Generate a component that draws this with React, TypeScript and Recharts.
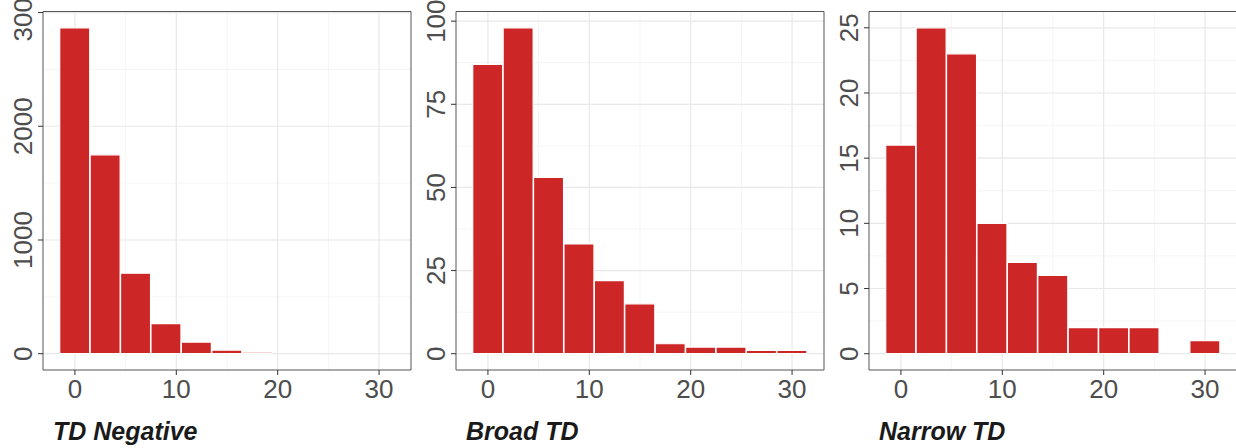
import React from 'react';
import { BarChart, Bar, XAxis, YAxis, CartesianGrid, ReferenceArea } from 'recharts';

// bin centres (binwidth 3)
const binCenters = [0, 3, 6, 9, 12, 15, 18, 21, 24, 27, 30];

const tdNegative = [2866, 1749, 708, 264, 102, 32, 13, 0, 0, 0, 0];
const broadTD = [87, 98, 53, 33, 22, 15, 3, 2, 2, 1, 1];
const narrowTD = [16, 25, 23, 10, 7, 6, 2, 2, 2, 0, 1];

const xTicks = [0, 10, 20, 30];
const xMinor = [5, 15, 25];

const negTicks = [0, 1000, 2000, 3000];
const negMinor = [500, 1500, 2500];
const broadTicks = [0, 25, 50, 75, 100];
const broadMinor = [12.5, 37.5, 62.5, 87.5];
const narrowTicks = [0, 5, 10, 15, 20, 25];
const narrowMinor = [2.5, 7.5, 12.5, 17.5, 22.5];

const BAR_RED = '#CD2626';
const FONT = '"Liberation Sans", Arial, Helvetica, sans-serif';

const xDomain: [number, number] = [-3.15, 33.15];

const RotatedTick = (props: any) => {
  const { x, y, payload } = props;
  return (
    <text
      x={x}
      y={y}
      transform={`rotate(-90, ${x}, ${y})`}
      textAnchor="middle"
      fill="#4D4D4D"
      fontSize={26}
      fontFamily={FONT}
    >
      {payload.value}
    </text>
  );
};

interface PanelProps {
  title: string;
  counts: number[];
  yTicks: number[];
  yMinor: number[];
  left: number;
}

const Panel: React.FC<PanelProps> = ({ title, counts, yTicks, yMinor, left }) => {
  const data = binCenters.map((x, i) => ({ x, count: counts[i] }));
  const max = Math.max(...counts);
  const yDomain: [number, number] = [-max * 0.05, max * 1.05];

  return (
    <div style={{ position: 'absolute', left, top: 0, width: 412, height: 448 }}>
      <BarChart
        width={412}
        height={410}
        data={data}
        margin={{ top: 11.5, right: 1, left: 0, bottom: 0 }}
        barCategoryGap={0}
        barGap={0}
      >
        <CartesianGrid
          horizontalValues={yMinor}
          verticalValues={xMinor}
          stroke="#F0F0F0"
          strokeWidth={0.7}
        />
        <CartesianGrid
          horizontalValues={yTicks}
          verticalValues={xTicks}
          stroke="#E8E8E8"
          strokeWidth={1.2}
        />
        <XAxis
          dataKey="x"
          type="number"
          domain={xDomain}
          ticks={xTicks}
          height={40}
          axisLine={false}
          tickLine={{ stroke: '#333333' }}
          tickSize={5}
          tickMargin={5}
          tick={{ fill: '#4D4D4D', fontSize: 26, fontFamily: FONT }}
          allowDataOverflow
        />
        <YAxis
          type="number"
          domain={yDomain}
          ticks={yTicks}
          width={43}
          axisLine={false}
          tickLine={{ stroke: '#333333' }}
          tickSize={5}
          tickMargin={6}
          tick={<RotatedTick />}
          allowDataOverflow
        />
        <Bar
          dataKey="count"
          fill={BAR_RED}
          stroke="#FFFFFF"
          strokeWidth={1.2}
          isAnimationActive={false}
        />
        <ReferenceArea
          x1={xDomain[0]}
          x2={xDomain[1]}
          y1={yDomain[0]}
          y2={yDomain[1]}
          fill="none"
          stroke="#555555"
          strokeWidth={1}
          fillOpacity={0}
        />
      </BarChart>
      <div
        style={{
          position: 'absolute',
          left: 53,
          top: 419,
          fontFamily: FONT,
          fontSize: 25,
          lineHeight: '25px',
          fontWeight: 'bold',
          fontStyle: 'italic',
          color: '#1A1A1A',
          whiteSpace: 'nowrap',
        }}
      >
        {title}
      </div>
    </div>
  );
};

export default function App() {
  return (
    <div
      style={{
        position: 'absolute',
        left: 0,
        top: 0,
        width: 1236,
        height: 448,
        overflow: 'hidden',
        background: '#FFFFFF',
      }}
    >
      <Panel title="TD Negative" counts={tdNegative} yTicks={negTicks} yMinor={negMinor} left={0} />
      <Panel title="Broad TD" counts={broadTD} yTicks={broadTicks} yMinor={broadMinor} left={413} />
      <Panel title="Narrow TD" counts={narrowTD} yTicks={narrowTicks} yMinor={narrowMinor} left={826} />
    </div>
  );
}
